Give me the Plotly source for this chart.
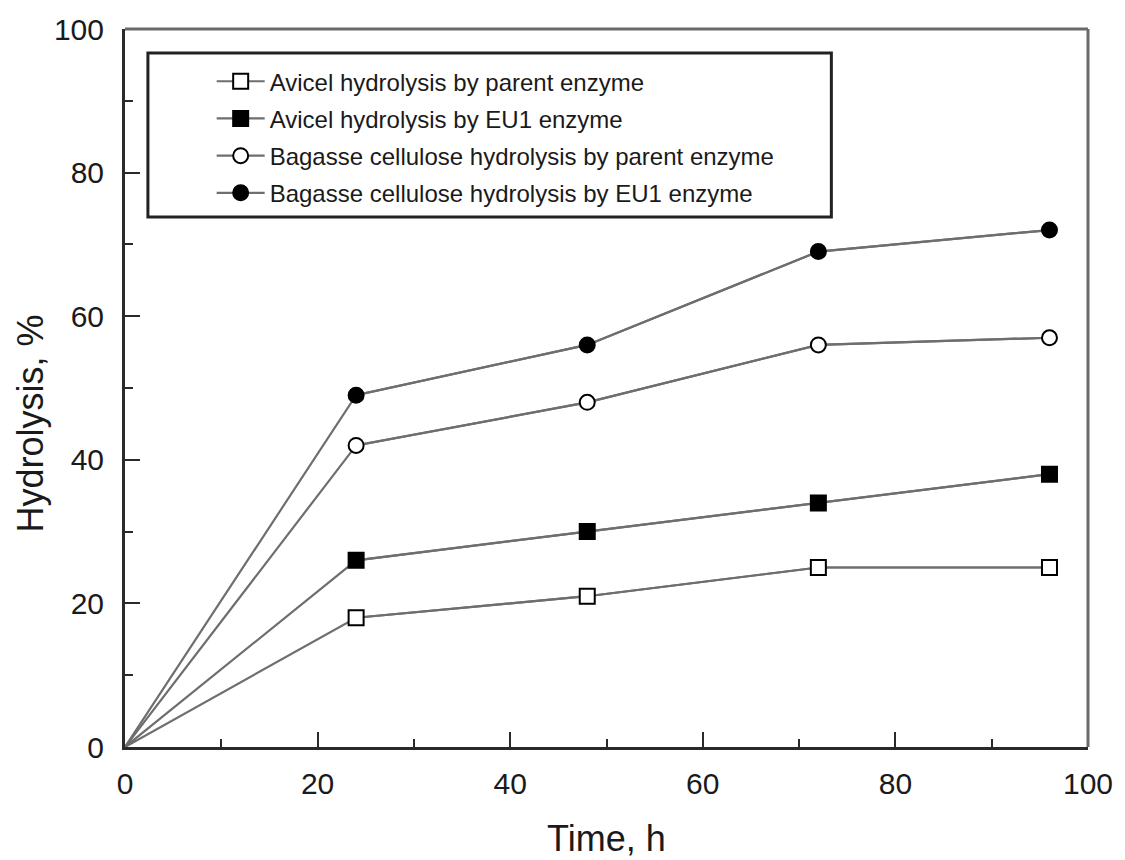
import plotly.graph_objects as go

# Hydrolysis time course (h) and extent of hydrolysis (%)
time_h = [0, 24, 48, 72, 96]
avicel_parent = [0, 18, 21, 25, 25]
avicel_eu1 = [0, 26, 30, 34, 38]
bagasse_parent = [0, 42, 48, 56, 57]
bagasse_eu1 = [0, 49, 56, 69, 72]

series_names = [
    "Avicel hydrolysis by parent enzyme",
    "Avicel hydrolysis by EU1 enzyme",
    "Bagasse cellulose hydrolysis by parent enzyme",
    "Bagasse cellulose hydrolysis by EU1 enzyme",
]
series_values = [avicel_parent, avicel_eu1, bagasse_parent, bagasse_eu1]
series_symbols = ["square-open", "square", "circle-open", "circle"]

x_ticks = [0, 20, 40, 60, 80, 100]
y_ticks = [0, 20, 40, 60, 80, 100]

FONT = "Liberation Sans, Arial, sans-serif"
INK = "#1a1a1a"
LINE = dict(color="#6e6e6e", width=2.2)

fig = go.Figure()
for name, vals, sym in zip(series_names, series_values, series_symbols):
    filled = not sym.endswith("open")
    # full curve from the origin (no marker at t = 0)
    fig.add_trace(go.Scatter(
        x=time_h, y=vals, mode="lines", line=LINE,
        legendgroup=name, showlegend=False, hoverinfo="skip",
    ))
    # measured points
    fig.add_trace(go.Scatter(
        x=time_h[1:], y=vals[1:], name=name, mode="lines+markers",
        legendgroup=name, line=LINE,
        marker=dict(
            symbol=sym.replace("-open", ""), size=15,
            color="black" if filled else "white",
            line=dict(color="black", width=2),
        ),
    ))

axis_common = dict(
    showgrid=False, zeroline=False,
    showline=True, linecolor="#2a2a2a", linewidth=3,
    ticks="inside", ticklen=15, tickwidth=2, tickcolor="#2a2a2a",
    tickfont=dict(family=FONT, size=30, color=INK),
    minor=dict(ticks="inside", ticklen=8, tickwidth=2, tickcolor="#2a2a2a", dtick=10),
    mirror=False,
)

fig.update_xaxes(range=[0, 100], tickvals=x_ticks, ticklabelstandoff=8, **axis_common)
fig.update_yaxes(range=[0, 100], tickvals=y_ticks, ticklabelstandoff=12, **axis_common)

# top and right frame edges
fig.add_shape(type="line", xref="paper", yref="paper", x0=0, x1=1, y0=1, y1=1,
              line=dict(color="#6a6a6a", width=3))
fig.add_shape(type="line", xref="paper", yref="paper", x0=1, x1=1, y0=0, y1=1,
              line=dict(color="#6a6a6a", width=3))
# legend frame
fig.add_shape(type="rect", xref="paper", yref="paper",
              x0=0.0238, x1=0.7335, y0=0.738, y1=0.9666,
              line=dict(color="#222222", width=3), fillcolor="rgba(0,0,0,0)")

fig.add_annotation(text="Hydrolysis, %", xref="paper", yref="paper",
                   x=-0.098, y=0.45, xanchor="center", yanchor="middle",
                   textangle=-90, showarrow=False,
                   font=dict(family=FONT, size=36, color=INK))
fig.add_annotation(text="Time, h", xref="paper", yref="paper",
                   x=0.5, y=-0.127, xanchor="center", yanchor="middle",
                   showarrow=False,
                   font=dict(family=FONT, size=36, color=INK))

fig.update_layout(
    width=1125, height=860,
    margin=dict(l=125, r=32, t=29, b=113),
    paper_bgcolor="white", plot_bgcolor="white",
    showlegend=True,
    legend=dict(
        x=0.09, y=0.958, xanchor="left", yanchor="top",
        bgcolor="rgba(0,0,0,0)", borderwidth=0,
        font=dict(family=FONT, size=24, color=INK),
        traceorder="grouped", tracegroupgap=3,
        itemwidth=48,
    ),
)

fig.write_html("out.html")
